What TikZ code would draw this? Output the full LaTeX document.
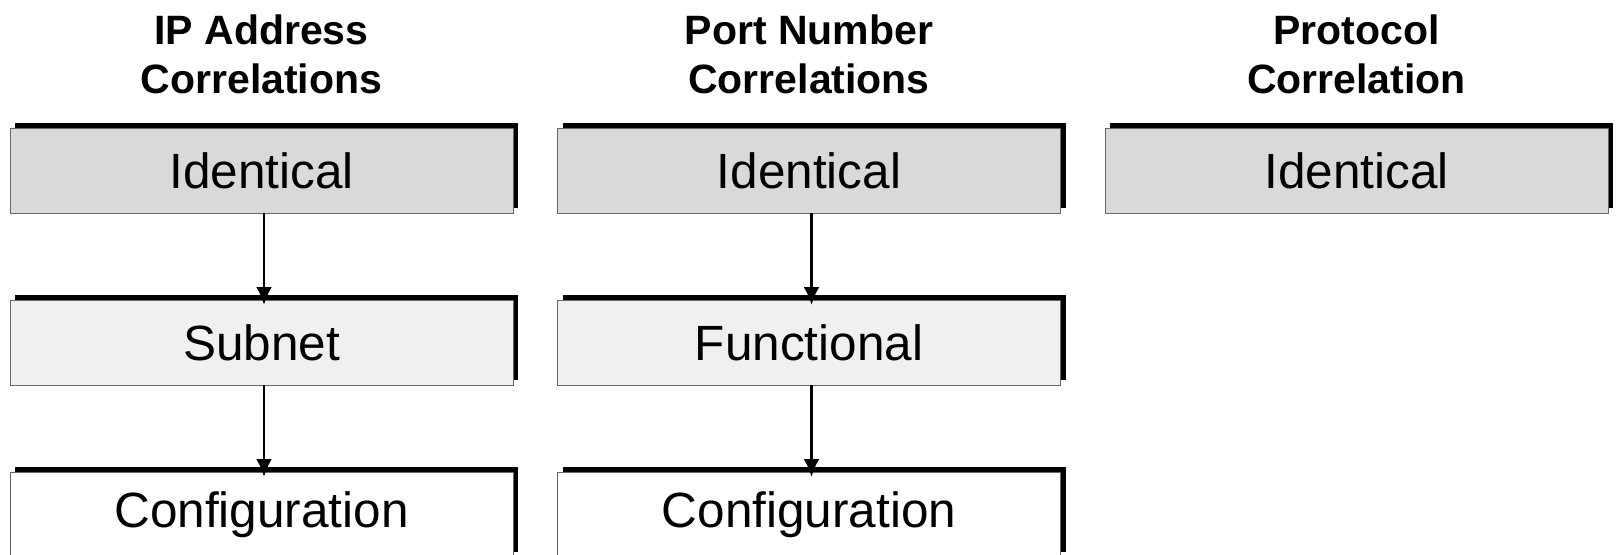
\documentclass[tikz,border=0pt]{standalone}
\usepackage{fontspec}
\setmainfont{Liberation Sans}
\usepackage{xcolor}
\usetikzlibrary{arrows.meta,positioning,shadows}

\begin{document}
\begin{tikzpicture}[
  node distance=43.5pt and 22.25pt,
  cell/.style={draw=black!60, line width=0.5pt, outer sep=0pt, inner sep=0pt,
    minimum width=251.5pt, minimum height=42.5pt, font=\fontsize{24.75}{29}\selectfont,
    drop shadow={shadow xshift=2.5pt, shadow yshift=2.5pt, fill=black, opacity=1}},
  toprow/.style={cell, fill=gray!30},
  midrow/.style={cell, fill=gray!12},
  lowrow/.style={cell, fill=white},
  head/.style={align=center, inner sep=0pt, outer sep=0pt,
    font=\fontsize{20.5}{24.5}\selectfont\bfseries},
  link/.style={draw=black, line width=1.3pt, -{Latex[length=9pt,width=8pt]}, shorten >=-2.5pt}
]
\useasboundingbox (0,0) rectangle (808.5pt,-277pt);

% boxes
\node[toprow, anchor=north west] (ipident) at (5pt,-64pt) {Identical};
\node[midrow, below=of ipident] (ipsubnet) {Subnet};
\node[lowrow, below=of ipsubnet] (ipconfig) {Configuration};

\node[toprow, right=of ipident] (portident) {Identical};
\node[midrow, below=of portident] (portfunc) {Functional};
\node[lowrow, below=of portfunc] (portconfig) {Configuration};

\node[toprow, right=of portident] (protoident) {Identical};

% headings
\node[head, above=17pt of ipident] (iphead) {IP Address\\Correlations};
\node[head, above=17pt of portident] (porthead) {Port Number\\Correlations};
\node[head, above=17pt of protoident] (protohead) {Protocol\\Correlation};

% arrows
\draw[link] ([xshift=1.25pt]ipident.south) -- ([xshift=1.25pt]ipsubnet.north);
\draw[link] ([xshift=1.25pt]ipsubnet.south) -- ([xshift=1.25pt]ipconfig.north);
\draw[link] ([xshift=1.25pt]portident.south) -- ([xshift=1.25pt]portfunc.north);
\draw[link] ([xshift=1.25pt]portfunc.south) -- ([xshift=1.25pt]portconfig.north);
\end{tikzpicture}
\end{document}
